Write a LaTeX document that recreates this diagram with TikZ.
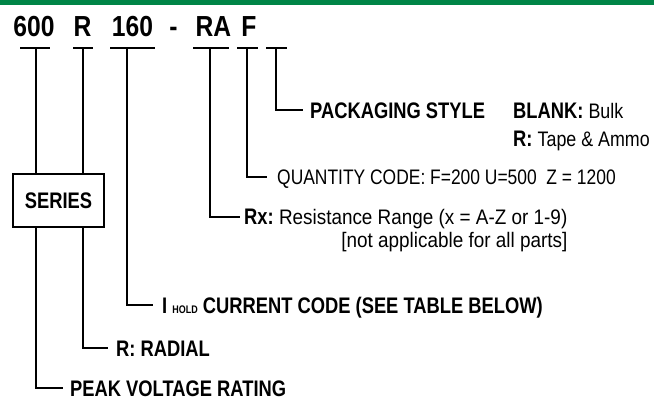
\documentclass[tikz,border=0pt]{standalone}
\usepackage{fontspec}
\setmainfont{Liberation Sans}
\newfontfamily\condh[FakeStretch=0.85]{Liberation Sans}
\newfontfamily\condb[FakeStretch=0.815]{Liberation Sans}
\newfontfamily\condl[FakeStretch=0.83]{Liberation Sans}
\newfontfamily\condw[FakeStretch=0.9]{Liberation Sans}
\newcommand{\bsz}{\fontsize{22.5}{22.5}\selectfont}
\newcommand{\lsz}{\fontsize{21}{21}\selectfont}
\definecolor{hdrgreen}{RGB}{0,133,71}
\begin{document}
\begin{tikzpicture}[x=1pt,y=-1pt,
  hdr/.style={font=\condh\bfseries\fontsize{29}{29}\selectfont, inner sep=0pt, anchor=base},
  bar/.style={line width=2.6pt},
  conn/.style={line width=1.2pt},
  lbl/.style={font=\condb\bfseries\bsz, anchor=west, inner ysep=0pt, text height=16pt, text depth=0pt},
  lite/.style={font=\condl\lsz, anchor=west, inner ysep=0pt, text height=15pt, text depth=0pt},
  wide/.style={font=\condw\lsz, anchor=west, inner ysep=0pt, text height=15pt, text depth=0pt},
  boxst/.style={draw, fill=white, line width=1.2pt, inner sep=0pt, minimum width=91pt, minimum height=53pt, font=\condb\bfseries\bsz}
]
\useasboundingbox (0,0) rectangle (654,400);
\fill[hdrgreen] (0,0) rectangle (654,5);

% header
\node[hdr] (t600) at (34,36) {600};
\node[hdr] (tR) at (82.5,36) {R};
\node[hdr] (t160) at (132.5,36) {160};
\node[hdr] (tdash) at (173.5,36) {-};
\node[hdr] (tRA) at (213.5,36) {RA};
\node[hdr] (tF) at (249,36) {F};

% bars
\coordinate (b600l) at (20,48); \coordinate (b600r) at (50,48); \coordinate (b600) at (36,48);
\coordinate (bRl) at (73,48); \coordinate (bRr) at (93,48); \coordinate (bR) at (83,48);
\coordinate (b160l) at (110,48); \coordinate (b160r) at (155,48); \coordinate (b160) at (127,48);
\coordinate (bRAl) at (193,48); \coordinate (bRAr) at (229,48); \coordinate (bRA) at (210,48);
\coordinate (bFl) at (237,48); \coordinate (bFr) at (258,48); \coordinate (bF) at (247,48);
\coordinate (bBl) at (266,48); \coordinate (bBr) at (287,48); \coordinate (bB) at (276,48);
\foreach \b in {600,R,160,RA,F,B} \draw[bar] (b\b l) -- (b\b r);

% labels
\node[lbl, inner xsep=7pt] (pack) at (303,110) {PACKAGING STYLE};
\node[lbl, inner xsep=0pt] (blank) at (513,110) {BLANK:\ \condh\mdseries\lsz Bulk};
\node[lbl, inner xsep=0pt] (tape) at (513,138) {R:\ \condh\mdseries\lsz Tape \& Ammo};
\node[lite, inner xsep=10pt] (qty) at (267,177) {QUANTITY CODE: F=200 U=500\ \ Z = 1200};
\node[wide, inner xsep=4pt] (rx) at (240,217) {{\condb\bfseries\bsz Rx:}\ Resistance Range (x = A-Z or 1-9)};
\node[wide, anchor=east, inner xsep=4pt] (na) at (rx.east |- 0,240) {[not applicable for all parts]};
\node[lbl, inner xsep=9pt] (ihold) at (153,305) {I {\fontsize{11}{11}\selectfont HOLD} CURRENT CODE (SEE TABLE BELOW)};
\node[lbl, inner xsep=8pt] (radial) at (108,348) {R: RADIAL};
\node[lbl, inner xsep=7pt] (peak) at (63,388) {PEAK VOLTAGE RATING};

% connectors
\draw[conn] (bB) |- (pack.west);
\draw[conn] (bF) |- (qty.west);
\draw[conn] (bRA) |- (rx.west);
\draw[conn] (b160) |- (ihold.west);
\draw[conn] (bR) |- (radial.west);
\draw[conn] (b600) |- (peak.west);

\node[boxst] (series) at (58.5,200.5) {SERIES};
\end{tikzpicture}
\end{document}
